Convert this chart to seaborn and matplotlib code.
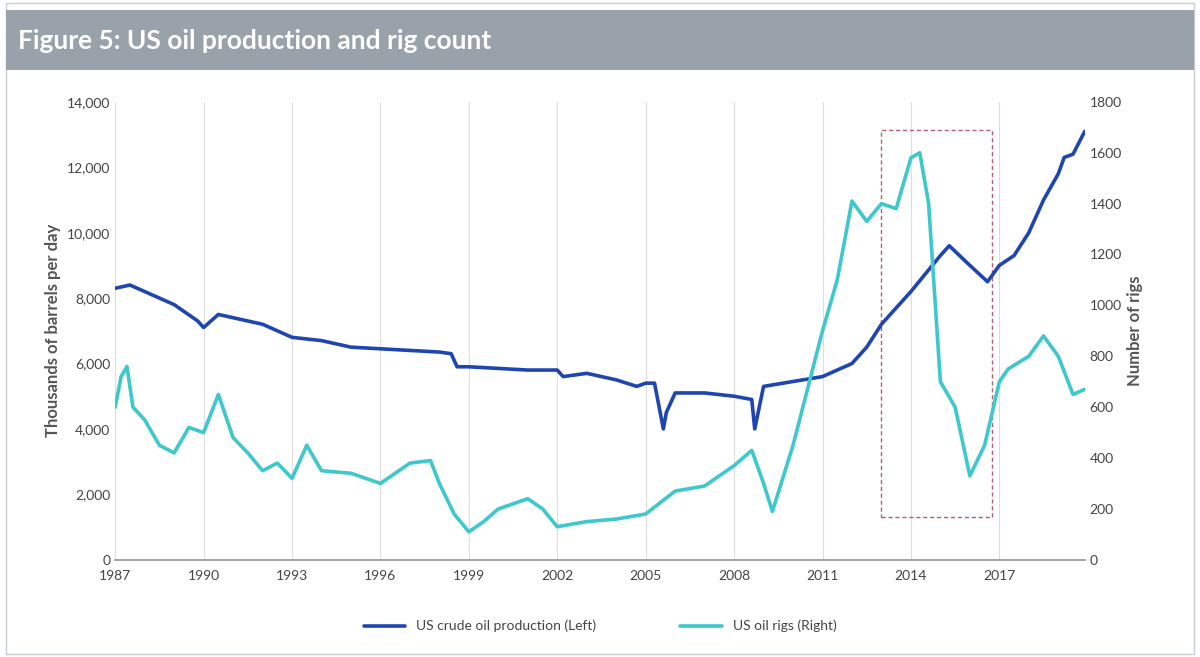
import matplotlib
matplotlib.use("Agg")
import matplotlib.pyplot as plt
import seaborn as sns
import pandas as pd
from matplotlib.patches import Rectangle

sns.set_theme(style="white")
plt.rcParams['font.family'] = ['Lato', 'DejaVu Sans']

prod_years = [1987, 1987.5, 1988, 1989, 1989.8, 1990, 1990.5, 1991, 1992, 1993, 1994, 1995, 1996, 1997,
              1998, 1998.4, 1998.6, 1999, 2000, 2001, 2002, 2002.2, 2003, 2004, 2004.7, 2005, 2005.3, 2005.6, 2005.7,
              2006, 2007, 2008, 2008.6, 2008.7, 2009, 2010, 2011, 2012, 2012.5, 2013, 2014,
              2015, 2015.3, 2016, 2016.6, 2017, 2017.5, 2018, 2018.5, 2019, 2019.2, 2019.5, 2019.9]
prod_vals = [8300, 8400, 8200, 7800, 7300, 7100, 7500, 7400, 7200, 6800, 6700, 6500, 6450, 6400,
             6350, 6300, 5900, 5900, 5850, 5800, 5800, 5600, 5700, 5500, 5300, 5400, 5400, 4000, 4500,
             5100, 5100, 5000, 4900, 4000, 5300, 5450, 5600, 6000, 6500, 7200, 8200,
             9300, 9600, 9000, 8500, 9000, 9300, 10000, 11000, 11800, 12300, 12400, 13100]

rig_years = [1987, 1987.2, 1987.4, 1987.6, 1988, 1988.5, 1989, 1989.5, 1990, 1990.5, 1991, 1991.5,
             1992, 1992.5, 1993, 1993.5, 1994, 1995, 1996, 1997, 1997.7, 1998, 1998.5, 1999,
             1999.5, 2000, 2001, 2001.5, 2002, 2003, 2004, 2005, 2006, 2007, 2008, 2008.6,
             2009, 2009.3, 2010, 2011, 2011.5, 2012, 2012.5, 2013, 2013.5, 2014, 2014.3, 2014.6,
             2015, 2015.5, 2016, 2016.5, 2017, 2017.3, 2018, 2018.5, 2019, 2019.5, 2019.9]
rig_vals = [600, 720, 760, 600, 550, 450, 420, 520, 500, 650, 480, 420,
            350, 380, 320, 450, 350, 340, 300, 380, 390, 300, 180, 110,
            150, 200, 240, 200, 130, 150, 160, 180, 270, 290, 370, 430,
            300, 190, 450, 900, 1100, 1410, 1330, 1400, 1380, 1580, 1600, 1400,
            700, 600, 330, 450, 700, 750, 800, 880, 800, 650, 670]

prod = pd.DataFrame({"year": prod_years, "v": prod_vals})
rigs = pd.DataFrame({"year": rig_years, "v": rig_vals})

fig = plt.figure(figsize=(12, 6.57), dpi=100)
fig.patch.set_facecolor("white")
fig.patches.append(Rectangle((0.005, 0.005), 0.99, 0.99, transform=fig.transFigure,
                             fill=False, edgecolor="#c8cdd2", lw=1))
fig.patches.append(Rectangle((0.005, 0.893), 0.99, 0.092, transform=fig.transFigure,
                             facecolor="#99a2aa", edgecolor="none"))
fig.text(0.015, 0.938, "Figure 5: US oil production and rig count", color="white",
         fontsize=19, fontweight="bold", va="center")

ax = fig.add_axes([0.096, 0.148, 0.808, 0.697])
ax2 = ax.twinx()
sns.lineplot(data=prod, x="year", y="v", ax=ax, color="#1f45b0", lw=2.6,
             label="US crude oil production (Left)", legend=False)
sns.lineplot(data=rigs, x="year", y="v", ax=ax2, color="#3ec8cc", lw=2.6,
             label="US oil rigs (Right)", legend=False)

ax.set_xlim(1987, 2019.9)
ax.set_ylim(0, 14000)
ax2.set_ylim(0, 1800)
ax.set_xticks(range(1987, 2019, 3))
ax.set_yticks(range(0, 14001, 2000))
ax2.set_yticks(range(0, 1801, 200))
ax.set_yticklabels([f"{v:,}" for v in range(0, 14001, 2000)])
ax.xaxis.grid(True, color="#dddddd", lw=0.8)
ax.yaxis.grid(False)
for a in (ax, ax2):
    a.tick_params(labelsize=10, colors="#444444", length=0)
    for s in a.spines.values():
        s.set_visible(False)
ax.spines["bottom"].set_visible(True)
ax.spines["bottom"].set_color("#999999")
ax.tick_params(axis="x", length=4, color="#999999")
ax.set_xlabel("")
ax.set_ylabel("Thousands of barrels per day", fontsize=12, fontweight="bold", color="#555555")
ax2.set_ylabel("Number of rigs", fontsize=12, fontweight="bold", color="#555555")

ax.add_patch(Rectangle((2013.0, 1310), 3.75, 11830, fill=False, edgecolor="#b06070",
                       linestyle=(0, (3, 2)), lw=1))

h1, l1 = ax.get_legend_handles_labels()
h2, l2 = ax2.get_legend_handles_labels()
fig.legend(h1 + h2, l1 + l2, loc="center", bbox_to_anchor=(0.5, 0.047), ncol=2,
           frameon=False, fontsize=10, handlelength=3, columnspacing=6,
           labelcolor="#444444")
fig.savefig("out.png", dpi=100)
